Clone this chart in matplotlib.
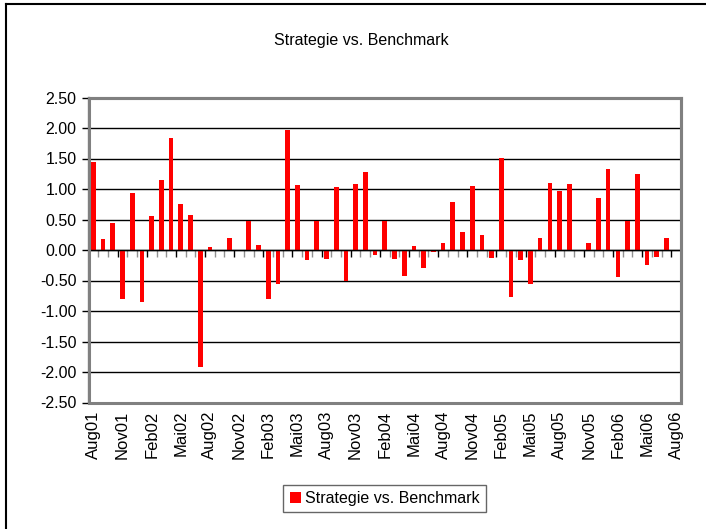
import matplotlib
matplotlib.use("Agg")
import matplotlib.pyplot as plt
from matplotlib.lines import Line2D
from matplotlib.patches import Rectangle
import numpy as np

plt.rcParams['font.family'] = ['Liberation Sans', 'DejaVu Sans']

title = "Strategie vs. Benchmark"
series_name = "Strategie vs. Benchmark"

values = [1.45, 0.18, 0.45, -0.80, 0.94, -0.85, 0.56, 1.14, 1.84, 0.76,
          0.58, -1.91, 0.05, 0.00, 0.19, -0.02, 0.48, 0.09, -0.80, -0.55,
          1.96, 1.07, -0.17, 0.48, -0.14, 1.04, -0.50, 1.09, 1.28, -0.08,
          0.48, -0.14, -0.42, 0.07, -0.29, -0.03, 0.12, 0.79, 0.30, 1.05,
          0.25, -0.13, 1.51, -0.77, -0.17, -0.55, 0.19, 1.10, 0.97, 1.09,
          0.00, 0.12, 0.86, 1.32, -0.45, 0.48, 1.25, -0.24, -0.11, 0.19,
          0.00]

tick_labels = ["Aug01", "Nov01", "Feb02", "Mai02", "Aug02", "Nov02", "Feb03",
               "Mai03", "Aug03", "Nov03", "Feb04", "Mai04", "Aug04", "Nov04",
               "Feb05", "Mai05", "Aug05", "Nov05", "Feb06", "Mai06", "Aug06"]

y_ticks = [-2.5, -2.0, -1.5, -1.0, -0.5, 0.0, 0.5, 1.0, 1.5, 2.0, 2.5]

W, H = 706, 529
fig = plt.figure(figsize=(W / 100, H / 100), dpi=100)
fig.patch.set_facecolor('white')

# outer chart frame (left and top edges visible)
fig.add_artist(Line2D([6 / W, 6 / W], [0, 1 - 3.5 / H], color='black', lw=1.5,
                      transform=fig.transFigure))
fig.add_artist(Line2D([6 / W, 1], [1 - 3.5 / H, 1 - 3.5 / H], color='black', lw=1.5,
                      transform=fig.transFigure))

left, right, top, bottom = 89, 681, 97.5, 402.5
ax = fig.add_axes([left / W, 1 - bottom / H, (right - left) / W, (bottom - top) / H])

x = np.arange(len(values))
ax.bar(x, values, width=0.48, color='#FF0000', zorder=3, label=series_name)

ax.set_ylim(-2.5, 2.5)
ax.set_xlim(-0.45, 60.5)
ax.set_yticks(y_ticks)
ax.set_yticklabels([f"{v:.2f}" for v in y_ticks], fontsize=11.5)
ax.yaxis.grid(True, color='black', lw=1, zorder=1)
ax.tick_params(axis='y', direction='out', length=5, width=1, pad=4, color='black')

# category axis crossing at zero
ax.spines['bottom'].set_position(('data', 0))
ax.spines['bottom'].set_color('black')
ax.spines['bottom'].set_linewidth(1)
ax.spines['bottom'].set_zorder(4)
major = np.arange(2.5, 61, 3)
minor = np.arange(0.5, 61, 1)
ax.set_xticks(major)
ax.set_xticks(minor, minor=True)
ax.tick_params(axis='x', which='major', direction='out', length=5, width=1,
               color='black', labelbottom=False)
ax.tick_params(axis='x', which='minor', direction='out', length=5, width=1,
               color='#909090', labelbottom=False)

for s in ['top', 'right']:
    ax.spines[s].set_color('#808080')
    ax.spines[s].set_linewidth(2.2)
ax.spines['left'].set_color('#404040')
ax.spines['left'].set_linewidth(1.6)

# plot area bottom border
ax.add_patch(Rectangle((0, 0), 1, 1, transform=ax.transAxes, fill=False,
                       edgecolor='#808080', lw=2.2, zorder=5, clip_on=False))

# labels for categories at the bottom
sec = ax.secondary_xaxis(0)
sec.set_xticks(np.arange(0, 61, 3))
sec.set_xticklabels(tick_labels, rotation=90, fontsize=12, va='top', ha='center')
sec.tick_params(length=0, pad=6)
sec.spines['bottom'].set_visible(False)

fig.text(361 / W, 1 - 40 / H, title, ha='center', va='center', fontsize=11.5)

leg = fig.legend(loc='center', bbox_to_anchor=(384.5 / W, 1 - 498.5 / H),
                 fontsize=11.5, frameon=True, fancybox=False, handlelength=0.7,
                 handleheight=0.7, handletextpad=0.25, borderpad=0.4,
                 borderaxespad=0)
leg.get_frame().set_edgecolor('#404040')
leg.get_frame().set_linewidth(1)

fig.savefig('out.png', dpi=100)
